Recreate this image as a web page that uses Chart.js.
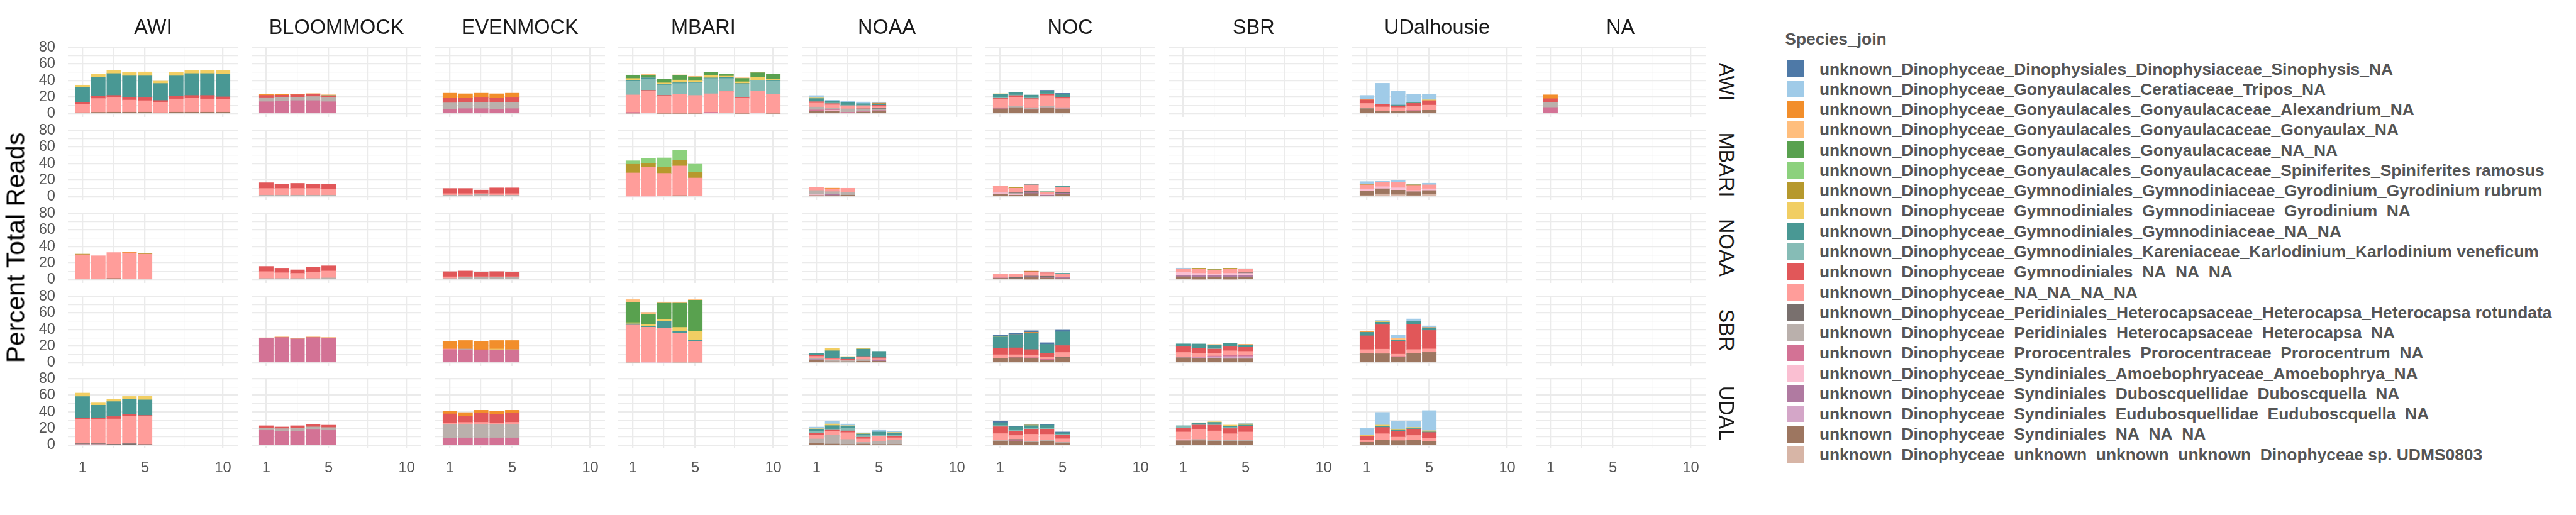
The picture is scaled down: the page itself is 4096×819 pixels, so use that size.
<!DOCTYPE html>
<html>
<head>
<meta charset="utf-8">
<script src="https://cdn.jsdelivr.net/npm/chart.js@4.4.1/dist/chart.umd.min.js"></script>
<style>
  body { margin: 0; width: 4096px; height: 819px; background: #fff; overflow: hidden; position: relative;
         font-family: "Liberation Sans", Arial, sans-serif; }
  canvas { position: absolute; }
  .strip { position: absolute; text-align: center; color: #1a1a1a; font-size: 32.5px; white-space: nowrap; }
  .rot { position: absolute; white-space: nowrap; transform: translate(-50%, -50%) rotate(90deg); color: #1a1a1a; font-size: 32.5px; }
  .ytitle { position: absolute; white-space: nowrap; transform: translate(-50%, -50%) rotate(-90deg); color: #000; font-size: 40.8px; }
  .lg { position: absolute; white-space: nowrap; color: #555; font-size: 26.4px; font-weight: bold; }
  .key { position: absolute; }
</style>
</head>
<body>
<script>
// facet rows / columns, x samples
const rowLabs = ["AWI", "MBARI", "NOAA", "SBR", "UDAL"];
const colSites = ["AWI", "BLOOMMOCK", "EVENMOCK", "MBARI", "NOAA", "NOC", "SBR", "UDalhousie", "NA"];
const xTicks = [1, 5, 10];
const yTicks = [0, 20, 40, 60, 80];

const species = [
  "unknown_Dinophyceae_Dinophysiales_Dinophysiaceae_Sinophysis_NA",
  "unknown_Dinophyceae_Gonyaulacales_Ceratiaceae_Tripos_NA",
  "unknown_Dinophyceae_Gonyaulacales_Gonyaulacaceae_Alexandrium_NA",
  "unknown_Dinophyceae_Gonyaulacales_Gonyaulacaceae_Gonyaulax_NA",
  "unknown_Dinophyceae_Gonyaulacales_Gonyaulacaceae_NA_NA",
  "unknown_Dinophyceae_Gonyaulacales_Gonyaulacaceae_Spiniferites_Spiniferites ramosus",
  "unknown_Dinophyceae_Gymnodiniales_Gymnodiniaceae_Gyrodinium_Gyrodinium rubrum",
  "unknown_Dinophyceae_Gymnodiniales_Gymnodiniaceae_Gyrodinium_NA",
  "unknown_Dinophyceae_Gymnodiniales_Gymnodiniaceae_NA_NA",
  "unknown_Dinophyceae_Gymnodiniales_Kareniaceae_Karlodinium_Karlodinium veneficum",
  "unknown_Dinophyceae_Gymnodiniales_NA_NA_NA",
  "unknown_Dinophyceae_NA_NA_NA_NA",
  "unknown_Dinophyceae_Peridiniales_Heterocapsaceae_Heterocapsa_Heterocapsa rotundata",
  "unknown_Dinophyceae_Peridiniales_Heterocapsaceae_Heterocapsa_NA",
  "unknown_Dinophyceae_Prorocentrales_Prorocentraceae_Prorocentrum_NA",
  "unknown_Dinophyceae_Syndiniales_Amoebophryaceae_Amoebophrya_NA",
  "unknown_Dinophyceae_Syndiniales_Duboscquellidae_Duboscquella_NA",
  "unknown_Dinophyceae_Syndiniales_Eudubosquellidae_Euduboscquella_NA",
  "unknown_Dinophyceae_Syndiniales_NA_NA_NA",
  "unknown_Dinophyceae_unknown_unknown_unknown_Dinophyceae sp. UDMS0803"
];
const colors = ["#4E79A7", "#A0CBE8", "#F28E2B", "#FFBE7D", "#59A14F", "#8CD17D", "#B6992D", "#F1CE63", "#499894", "#86BCB6",
                "#E15759", "#FF9D9A", "#79706E", "#BAB0AC", "#D37295", "#FABFD2", "#B07AA1", "#D4A6C8", "#9D7660", "#D7B5A6"];

// percent of reads per sample, keyed by species index (row_column)
const AWI_AWI = {
  18: [1.3, 1.8, 2, 2, 2, 1.3, 2, 2, 2, 2],
  11: [10.4, 16.6, 17.3, 14.5, 13.8, 12.4, 15.9, 16.6, 15.9, 15.2],
  10: [2, 3, 2.8, 3.5, 3.5, 2.3, 3.5, 3.5, 4.2, 3.2],
  8: [18, 22.6, 26.3, 25.6, 26.3, 20.5, 24.2, 26.3, 26.3, 27.2],
  7: [2.8, 3.5, 4.2, 4.2, 4.8, 2.8, 4.2, 4.2, 4.2, 4.8]
};
const AWI_BLOOMMOCK = {
  14: [14.5, 15.2, 15.9, 15.9, 14.5],
  13: [4.2, 4.2, 4.2, 4.8, 4.8],
  10: [3.5, 3, 2.8, 2.8, 2],
  9: [0, 0, 0, 0, 0.7],
  2: [0.9, 1.2, 0.5, 0.7, 0.7]
};
const AWI_EVENMOCK = {
  14: [5.5, 6.2, 6.2, 5.5, 6.2],
  13: [7.6, 7.6, 7.6, 8.3, 7.6],
  10: [5.5, 4.8, 5.5, 4.8, 5.5],
  2: [6.2, 5.5, 5.5, 5.5, 5.5]
};
const AWI_MBARI = {
  18: [0.7, 0, 0.5, 0.5, 0.5, 0, 0, 0.5, 0, 0.5],
  14: [1, 1.1, 0, 0, 0, 1.8, 0, 0, 1.1, 0],
  12: [0, 0, 0, 0, 0, 0, 1.1, 0, 0, 0],
  11: [21, 26.4, 21, 23, 21.6, 22.3, 25.7, 18.2, 26.4, 23],
  10: [0, 0.7, 0.7, 0, 0, 0, 0.7, 0.7, 0, 0],
  9: [16.4, 13.6, 12.5, 13, 15, 18.4, 15, 16.4, 12.3, 15.7],
  8: [1.4, 1.6, 0.7, 0.9, 0.5, 0.7, 1.4, 0.7, 0.7, 0.7],
  7: [2, 0.7, 1.8, 3.2, 2, 2.7, 1.4, 2, 3.4, 2],
  4: [4.1, 2.5, 4.1, 5.5, 4.8, 4.1, 2, 4.1, 5.5, 5.5],
  3: [0, 0.7, 0.7, 0.7, 0.7, 0, 0.7, 0.7, 0.7, 0.7]
};
const AWI_NOAA = {
  18: [3.2, 3.2, 1.1, 2, 3.2],
  15: [0, 0.9, 0, 0, 0],
  14: [1.4, 0.7, 0.7, 0.5, 0.7],
  13: [3.5, 1.8, 4.2, 3, 2],
  12: [0, 0, 0, 0.5, 0.7],
  11: [4.8, 4.2, 3, 3, 2],
  10: [1.6, 1.4, 0.7, 0.7, 1.6],
  9: [0.7, 0.7, 0.7, 0.7, 0],
  8: [3.2, 2, 3.2, 1.8, 1.8],
  7: [0.7, 0.7, 0, 0, 0],
  2: [0, 0, 0, 0, 0.7],
  1: [2.8, 0.7, 1.4, 2, 1.4]
};
const AWI_NOC = {
  18: [6, 7.4, 4.8, 6.7, 5.3],
  14: [0.4, 0, 0.7, 0.7, 0.7],
  13: [1, 1.4, 1.1, 1.4, 1.4],
  12: [0, 0.7, 0.7, 0.7, 0],
  11: [9.7, 10.4, 9.7, 12.5, 11],
  10: [1.4, 2, 1.4, 1.4, 1.6],
  9: [1.4, 0.7, 0.7, 0.7, 0],
  8: [3.5, 2.8, 3.5, 3.5, 3.9],
  7: [0.7, 0, 0, 0, 0],
  0: [0, 0.7, 0, 0.7, 0.7]
};
const AWI_UDalhousie = {
  18: [6.2, 3.5, 2.8, 3.5, 4.2],
  14: [0, 0, 0, 0.5, 0],
  13: [0.7, 0, 0, 0, 0],
  11: [5.5, 4.8, 4.8, 5, 6.2],
  10: [4.4, 2.8, 2, 3.5, 5.5],
  8: [0, 0, 0.9, 0.7, 0],
  7: [0.7, 0, 0, 0.7, 0.9],
  1: [4.6, 25.6, 17, 9.7, 6.7]
};
const AWI_NA = { 14: [7.6], 13: [6.2], 10: [4.4], 2: [4.6] };

const MBARI_BLOOMMOCK = {
  13: [2, 2, 2, 2, 2],
  11: [8, 8, 8, 8, 7.4],
  10: [6.9, 5.5, 6.2, 4.8, 5.5]
};
const MBARI_EVENMOCK = {
  13: [2, 2, 2.8, 2, 2],
  11: [1.8, 1.8, 1.1, 1.8, 1.8],
  10: [6.2, 6.2, 4.2, 6.9, 6.9]
};
const MBARI_MBARI = {
  18: [0, 0, 0, 1.4, 0],
  15: [0.7, 0.7, 0, 0, 0],
  11: [28, 35, 28.2, 35.8, 22.6],
  6: [10.4, 4.2, 7.6, 6.9, 6.9],
  5: [4.2, 6.2, 11, 11.8, 9.7]
};
const MBARI_NOAA = {
  18: [1.6, 1.6, 2],
  16: [0, 1.4, 0],
  15: [0.9, 0, 0],
  13: [5.1, 3.2, 3.5],
  11: [3.5, 3.5, 4.8],
  2: [0, 0.7, 0]
};
const MBARI_NOC = {
  18: [3.5, 2, 3.9, 1.4, 2.8],
  16: [0, 0, 0.9, 0.7, 1.4],
  15: [1.4, 1.4, 0, 0.7, 0],
  13: [0, 0.7, 0, 0, 0],
  12: [0.7, 0.7, 2, 0, 1.4],
  11: [6.9, 5.5, 7.6, 2.8, 6.2],
  9: [0, 0, 0, 0.7, 0],
  8: [0, 0, 0.7, 0, 0.7],
  7: [0, 0, 0, 0.7, 0],
  6: [0.7, 0.7, 0, 0, 0]
};
const MBARI_UDalhousie = {
  19: [1.4, 3.5, 2.5, 1.4, 2.8],
  18: [5.5, 6.2, 5.5, 4.8, 4.8],
  15: [2, 2.5, 2.8, 1.4, 2],
  11: [5.5, 5, 6.5, 6.2, 4.8],
  6: [0.7, 0, 0.5, 0.7, 0],
  1: [3.2, 1.4, 2, 0.7, 2]
};

const NOAA_AWI = {
  18: [0.9, 0.9, 1.6, 0.9, 0.9],
  11: [29.3, 28, 31.2, 31.4, 30],
  6: [0.7, 0, 0, 0, 0.7],
  2: [0, 0, 0, 0.7, 0]
};
const NOAA_BLOOMMOCK = {
  13: [1.6, 1.6, 1.6, 1.6, 2.3],
  11: [8.3, 6.9, 6.2, 7.6, 8.3],
  10: [6.2, 5.5, 4.2, 6.2, 6.2]
};
const NOAA_EVENMOCK = {
  13: [1.6, 2.8, 2.8, 2.8, 2.8],
  11: [2, 0.9, 0.9, 0.9, 0.9],
  10: [6.2, 6.9, 5.5, 6.2, 5.5]
};
const NOAA_NOC = {
  19: [0, 0, 0.7, 0, 0],
  18: [1.8, 1.6, 2.3, 2.3, 1.6],
  16: [0.5, 0, 0.9, 1, 1.4],
  12: [0, 1.4, 0.7, 1, 0],
  11: [4.8, 4.2, 4.6, 3.5, 4.2],
  10: [0, 0, 0.7, 0.7, 0],
  8: [0, 0, 0, 0, 0.7],
  6: [0, 0, 0.5, 0, 0]
};
const NOAA_SBR = {
  19: [0, 0.7, 0, 0.7, 0],
  18: [3.7, 2.3, 3, 2.3, 3],
  16: [2, 2, 2, 2, 2],
  15: [3.5, 2.8, 2.3, 2.8, 2.8],
  12: [0, 0, 0, 0, 0.7],
  11: [4.2, 5.5, 4.2, 5.5, 4.2],
  9: [0, 0, 0.5, 0, 0.7],
  6: [0, 0.7, 0.7, 0.7, 0],
  1: [0.7, 0, 0, 0, 0]
};

const SBR_BLOOMMOCK = {
  14: [29.3, 30.5, 28.9, 30.5, 29.6],
  7: [0, 0, 0.7, 0, 0],
  2: [0.7, 0.5, 0, 0.5, 0.7]
};
const SBR_EVENMOCK = {
  14: [15.9, 15.7, 15.7, 15.7, 15.2],
  13: [0, 0.9, 0, 0, 0.7],
  11: [0.7, 0, 0, 0, 0],
  7: [0, 0, 0, 0.9, 0],
  2: [8.8, 10.2, 9.7, 10.2, 10.9]
};
const SBR_MBARI = {
  18: [0.7, 0, 0, 0.7, 0.7],
  17: [0, 0.7, 0, 0, 0],
  14: [0, 0, 0.7, 0, 0],
  11: [44.8, 42, 41.3, 35.1, 25.4],
  8: [1.4, 1.6, 8.3, 2, 1.4],
  7: [1.4, 2, 2, 4.8, 10.4],
  4: [24.2, 12.2, 19.4, 29.1, 37.4],
  3: [3.5, 1.1, 1.4, 1.4, 0.7],
  2: [0, 0.9, 0, 0, 0]
};
const SBR_NOAA = {
  18: [3.2, 1.4, 1.4, 2, 2],
  16: [0.7, 0, 0, 0, 1.6],
  13: [1.8, 1.6, 1.1, 2, 0],
  11: [2.1, 1.6, 0.9, 2.8, 1.2],
  10: [1.4, 0.7, 0.9, 0.7, 1.4],
  8: [2, 9.2, 2.5, 9, 7.6],
  7: [0, 2.8, 0.7, 0.7, 0],
  1: [0.5, 0, 0, 0, 0]
};
const SBR_NOC = {
  18: [5.5, 6.2, 5.5, 3.5, 6.2],
  14: [0, 0.7, 0.7, 0.7, 0],
  12: [0, 0, 0, 0, 0.7],
  11: [4.2, 2.8, 2.8, 2.8, 5.5],
  10: [7.6, 8.3, 6.9, 4.8, 8.3],
  8: [13.9, 15.2, 20, 10.4, 16.6],
  7: [0.7, 0.7, 0, 0, 0],
  2: [0, 0, 0.7, 0, 0],
  0: [1.4, 2, 2, 2, 2]
};
const SBR_SBR = {
  18: [6.2, 5.5, 5.5, 4.8, 4.8],
  17: [0.7, 0.7, 2, 2.8, 2.8],
  14: [0, 0.7, 0.7, 1.4, 1.4],
  11: [5.5, 4.8, 3.5, 5.5, 4.8],
  10: [6.9, 5.5, 4.8, 4.8, 4.8],
  9: [0, 0, 0.7, 0, 0],
  8: [3.5, 5.5, 4.2, 4.2, 2.8],
  3: [0, 0, 0.7, 0, 0],
  2: [0, 0, 0, 0, 0.7]
};
const SBR_UDalhousie = {
  18: [11, 10.9, 6.9, 11.8, 12.5],
  14: [0.7, 0, 0.7, 0, 0.7],
  11: [4.2, 5.5, 2.8, 4.2, 3.5],
  10: [16.6, 29.3, 15.2, 30.5, 22.2],
  8: [4.2, 3.2, 1.4, 3.5, 2.8],
  7: [0, 0.7, 0.7, 0, 0],
  3: [0, 0, 2, 0, 0],
  2: [0.7, 0, 0, 0, 0.7],
  1: [0, 1.4, 3.5, 2.8, 2]
};

const UDAL_AWI = {
  15: [0.7, 0.7, 0, 0, 0],
  12: [1.1, 1.1, 1.1, 1.8, 0.5],
  11: [29.1, 29.1, 30.5, 33.3, 34.6],
  10: [2, 2, 2.8, 2, 0.7],
  8: [25.6, 15.2, 18, 18, 18.7],
  7: [4.2, 2.8, 2.8, 3.5, 4.8]
};
const UDAL_BLOOMMOCK = {
  14: [17.8, 16.4, 17.1, 18.5, 17.8],
  13: [2.8, 3.5, 3.5, 3.5, 3.5],
  10: [2.8, 2, 2.8, 2.8, 2.8]
};
const UDAL_EVENMOCK = {
  14: [8.1, 8.8, 8.8, 8.8, 8.8],
  13: [16.6, 16.6, 15.9, 15.9, 15.9],
  11: [2, 2, 2.8, 2, 2.8],
  10: [11, 7.6, 11, 10.4, 11],
  2: [3.5, 4.2, 3.5, 3.5, 3.5]
};
const UDAL_NOAA = {
  18: [2, 1.4, 0.7, 1.4, 0.7, 0.7],
  13: [5.5, 10.4, 6.2, 2, 3.5, 5.5],
  11: [4.8, 4.8, 8.3, 4.2, 6.2, 2.8],
  10: [2, 1.4, 2, 2, 0, 1.4],
  9: [2, 1.4, 2.8, 2, 2, 1.4],
  8: [2.8, 4.2, 2.8, 2, 3.5, 2.8],
  7: [0.7, 2, 0.7, 0.7, 0, 0.7],
  1: [2, 2.8, 2, 0.7, 2, 1.4]
};
const UDAL_NOC = {
  18: [4.2, 4.8, 3.5, 4.8, 2.8],
  14: [0, 0.7, 0, 0, 0],
  13: [1.4, 0, 1.4, 1.4, 0.7],
  12: [0, 1.4, 0, 0, 0],
  11: [8.3, 4.8, 8.3, 6.9, 4.2],
  10: [8.3, 4.8, 5.5, 6.2, 4.8],
  9: [1.4, 1.4, 1.4, 1.4, 0.7],
  8: [3.5, 4.2, 3.5, 3.5, 2],
  7: [0, 0, 0.7, 0, 0],
  0: [1.4, 0.7, 0.7, 0.7, 0.7]
};
const UDAL_SBR = {
  18: [5.5, 5.5, 4.8, 4.8, 4.8],
  15: [1.4, 0, 0, 0, 0],
  13: [0, 1.4, 1.4, 1.4, 1.4],
  11: [9, 11.8, 11, 7.6, 9.7],
  10: [4.8, 5.5, 6.9, 6.2, 6.9],
  9: [2, 0.7, 1.4, 1.4, 0],
  8: [0.7, 1.4, 2, 1.4, 1.4],
  7: [0, 0.7, 0.7, 1.4, 1.4],
  1: [0, 0, 0, 0, 0.7]
};
const UDAL_UDalhousie = {
  18: [3.5, 6.2, 5.5, 6.2, 4.2],
  11: [2.8, 7.6, 4.2, 5.5, 4.2],
  10: [4.8, 7.6, 6.9, 7.6, 6.9],
  8: [0, 1.4, 1.4, 0.7, 0.7],
  7: [0.7, 1.4, 1.4, 1.4, 1.4],
  1: [8.3, 15.2, 9.7, 7.6, 24.2]
};

const panels = {
  "AWI|AWI": AWI_AWI, "AWI|BLOOMMOCK": AWI_BLOOMMOCK, "AWI|EVENMOCK": AWI_EVENMOCK, "AWI|MBARI": AWI_MBARI,
  "AWI|NOAA": AWI_NOAA, "AWI|NOC": AWI_NOC, "AWI|UDalhousie": AWI_UDalhousie, "AWI|NA": AWI_NA,
  "MBARI|BLOOMMOCK": MBARI_BLOOMMOCK, "MBARI|EVENMOCK": MBARI_EVENMOCK, "MBARI|MBARI": MBARI_MBARI,
  "MBARI|NOAA": MBARI_NOAA, "MBARI|NOC": MBARI_NOC, "MBARI|UDalhousie": MBARI_UDalhousie,
  "NOAA|AWI": NOAA_AWI, "NOAA|BLOOMMOCK": NOAA_BLOOMMOCK, "NOAA|EVENMOCK": NOAA_EVENMOCK,
  "NOAA|NOC": NOAA_NOC, "NOAA|SBR": NOAA_SBR,
  "SBR|BLOOMMOCK": SBR_BLOOMMOCK, "SBR|EVENMOCK": SBR_EVENMOCK, "SBR|MBARI": SBR_MBARI,
  "SBR|NOAA": SBR_NOAA, "SBR|NOC": SBR_NOC, "SBR|SBR": SBR_SBR, "SBR|UDalhousie": SBR_UDalhousie,
  "UDAL|AWI": UDAL_AWI, "UDAL|BLOOMMOCK": UDAL_BLOOMMOCK, "UDAL|EVENMOCK": UDAL_EVENMOCK,
  "UDAL|NOAA": UDAL_NOAA, "UDAL|NOC": UDAL_NOC, "UDAL|SBR": UDAL_SBR, "UDAL|UDalhousie": UDAL_UDalhousie
};

// layout (reference px * 0.91)
const S = 0.91;
const panelW = 297 * S, panelH = 122.8 * S;
const panelX = c => (119 + c * 320.5) * S;
const panelY = r => (81.8 + r * 144.75) * S;
const padL = 70, padB = 60, padV = 16;
const xMin = 0.055, xMax = 10.945;
const yMin = -3.85, yMax = 80.85;
const gridColor = "#EBEBEB";
const tickFont = { family: "'Liberation Sans', Arial, sans-serif", size: 23.7 };

function addDiv(cls, text, css) {
  const d = document.createElement("div");
  d.className = cls;
  d.textContent = text;
  Object.assign(d.style, css);
  document.body.appendChild(d);
  return d;
}

function makePanel(r, c) {
  const vals = panels[rowLabs[r] + "|" + colSites[c]] || {};
  const isLeft = c === 0, isBottom = r === rowLabs.length - 1;
  const left = isLeft ? padL : 0;
  const bottom = isBottom ? padB : 0;
  // room above/below so the 80 and 0 labels are not cut off
  const padTop = isLeft ? padV : 0;
  const padBot = isLeft && !isBottom ? padV : 0;
  const cv = document.createElement("canvas");
  const w = Math.round(panelW + left), h = Math.round(panelH + bottom + padTop + padBot);
  cv.width = w; cv.height = h;
  cv.style.left = Math.round(panelX(c) - left) + "px";
  cv.style.top = Math.round(panelY(r) - padTop) + "px";
  cv.style.width = w + "px"; cv.style.height = h + "px";
  document.body.appendChild(cv);

  // ggplot stacks first factor level on top, so push datasets from last species upward
  const datasets = Object.keys(vals).map(Number).sort((a, b) => b - a).map(s => ({
    label: species[s],
    data: vals[s].map((v, i) => ({ x: i + 1, y: v })).filter(p => p.y > 0),
    backgroundColor: colors[s],
    borderWidth: 0,
    barThickness: 0.9 * panelW / (xMax - xMin)
  }));

  new Chart(cv, {
    type: "bar",
    data: { datasets },
    options: {
      responsive: false,
      animation: false,
      events: [],
      layout: { padding: { top: padTop, bottom: padBot, left: 0, right: 0 } },
      plugins: { legend: { display: false }, tooltip: { enabled: false } },
      scales: {
        x: {
          type: "linear", min: xMin, max: xMax, offset: false, stacked: true,
          afterBuildTicks: s => { s.ticks = [1, 3, 5, 7.5, 10].map(v => ({ value: v })); },
          afterFit: s => { s.height = bottom; s.paddingLeft = 0; s.paddingRight = 0; },
          grid: { color: gridColor, drawTicks: false, offset: false,
                  lineWidth: ctx => (ctx.tick && xTicks.includes(ctx.tick.value)) ? 2.3 : 1.2 },
          border: { display: false },
          ticks: { display: isBottom, autoSkip: false, maxRotation: 0, padding: 17, color: "#555", font: tickFont,
                   callback: v => xTicks.includes(v) ? String(v) : "" }
        },
        y: {
          type: "linear", min: yMin, max: yMax, stacked: true,
          afterBuildTicks: s => { s.ticks = [0, 10, 20, 30, 40, 50, 60, 70, 80].map(v => ({ value: v })); },
          afterFit: s => { s.width = left; s.paddingTop = 0; s.paddingBottom = 0; },
          grid: { color: gridColor, drawTicks: false,
                  lineWidth: ctx => (ctx.tick && yTicks.includes(ctx.tick.value)) ? 2.3 : 1.2 },
          border: { display: false },
          ticks: { display: isLeft, autoSkip: false, padding: 20, color: "#555", font: tickFont,
                   callback: v => yTicks.includes(v) ? String(v) : "" }
        }
      }
    }
  });
}

for (let r = 0; r < rowLabs.length; r++) {
  for (let c = 0; c < colSites.length; c++) makePanel(r, c);
}

// strip labels
colSites.forEach((name, c) => {
  addDiv("strip", name, { left: panelX(c) + "px", width: panelW + "px", top: (47 * S - 20) + "px",
                          height: "40px", lineHeight: "40px" });
});
rowLabs.forEach((name, r) => {
  addDiv("rot", name, { left: (3015 * S) + "px", top: (panelY(r) + panelH / 2) + "px" });
});
addDiv("ytitle", "Percent Total Reads", { left: (28 * S) + "px", top: ((panelY(0) + panelY(4) + panelH) / 2) + "px" });

// legend
const keyX = 3123 * S, textX = 3179 * S, keyTop = 106 * S, keyStep = 35.45 * S, keySize = 29 * S;
addDiv("lg", "Species_join", { left: (3119 * S) + "px", top: (68 * S - 16) + "px", lineHeight: "32px" });
species.forEach((name, i) => {
  const y = keyTop + i * keyStep;
  const k = addDiv("key", "", { left: keyX + "px", top: y + "px", width: keySize + "px", height: keySize + "px" });
  k.style.background = colors[i];
  addDiv("lg", name, { left: textX + "px", top: (y + keySize / 2 - 16) + "px", lineHeight: "32px" });
});
</script>
</body>
</html>
